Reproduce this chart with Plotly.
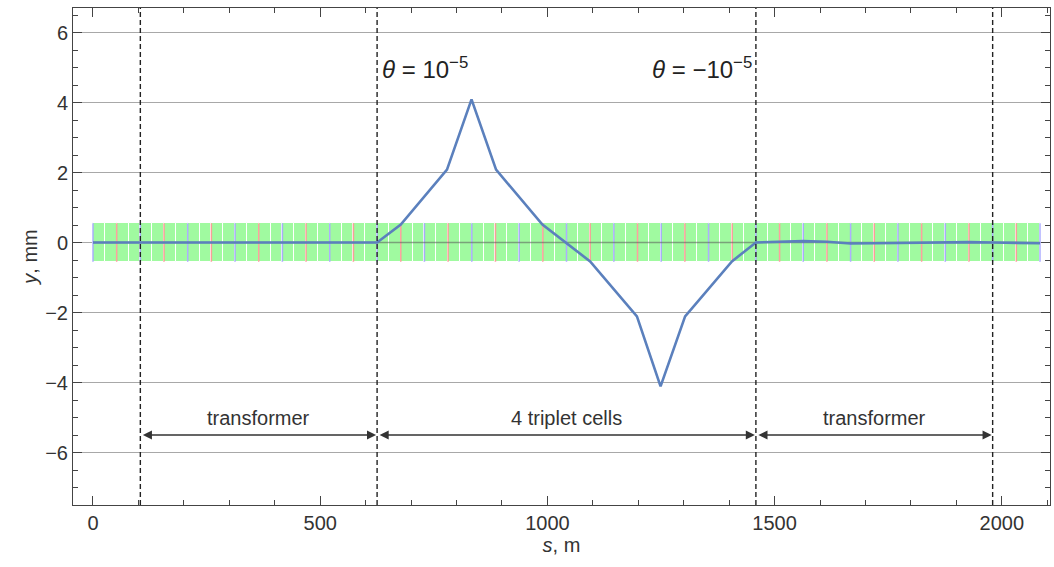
import plotly.graph_objects as go

# ---------------- data ----------------
# quadrupole positions along the lattice (m) and their type (F = blue, D = red)
quad_s = [0, 52.1, 104.2, 156.3, 208.4, 260.5, 312.6, 364.7, 416.8, 468.9,
          521.0, 573.1, 625.2, 677.3, 729.4, 781.5, 833.6, 885.7, 937.8, 989.9,
          1042.0, 1094.1, 1146.2, 1198.3, 1250.4, 1302.5, 1354.6, 1406.7, 1458.8, 1510.9,
          1563.0, 1615.1, 1667.2, 1719.3, 1771.4, 1823.5, 1875.6, 1927.7, 1979.8, 2031.9,
          2084.0]
quad_type = ["F" if i % 2 == 0 else "D" for i in range(len(quad_s))]

# beam offset y (mm) vs s (m)
curve_s = [0, 625.2, 677.3, 779, 833, 887, 989, 1094, 1197, 1249, 1303, 1406, 1458.8,
           1510.9, 1563.0, 1615.1, 1667.2, 1719.3, 1771.4, 1823.5, 1875.6, 1927.7,
           1979.8, 2031.9, 2084.0]
curve_y = [0, 0, 0.51, 2.08, 4.09, 2.08, 0.51, -0.54, -2.11, -4.11, -2.11, -0.54, 0,
           0.03, 0.04, 0.02, -0.03, -0.02, -0.01, 0.0, 0.01, 0.01, 0.0, -0.01, -0.02]

# section boundaries (dashed lines) and labels
section_s = [104.2, 625.2, 1458.8, 1979.8]
section_labels = ["transformer", "4 triplet cells", "transformer"]
kick_labels = ["<i>θ</i> = 10<sup>−5</sup>", "<i>θ</i> = −10<sup>−5</sup>"]

x_ticks = [0, 500, 1000, 1500, 2000]
y_ticks = [-6, -4, -2, 0, 2, 4, 6]

band_half = 0.55
arrow_y = -5.5
label_y = -5.0
kick_y = 5.0

# ---------------- figure ----------------
fig = go.Figure()

# element boxes (two per quad period)
box_centers, box_widths = [], []
for a, b in zip(quad_s[:-1], quad_s[1:]):
    m = (a + b) / 2
    box_centers += [(a + m) / 2, (m + b) / 2]
    box_widths += [m - a, b - m]
fig.add_trace(go.Bar(
    x=box_centers, y=[2 * band_half] * len(box_centers), base=-band_half,
    width=box_widths, marker=dict(color="#a0faa0", line=dict(color="white", width=1)),
    hoverinfo="skip", showlegend=False))

# quadrupoles
for typ, col in (("F", "rgba(165,165,255,0.9)"), ("D", "rgba(255,150,150,0.9)")):
    xs, ys = [], []
    for s, t in zip(quad_s, quad_type):
        if t == typ:
            xs += [s, s, None]
            ys += [-band_half, band_half, None]
    fig.add_trace(go.Scatter(x=xs, y=ys, mode="lines", line=dict(color=col, width=1.5),
                             hoverinfo="skip", showlegend=False))

# zero reference line over the band
fig.add_trace(go.Scatter(x=[quad_s[0], quad_s[-1]], y=[0, 0], mode="lines",
                         line=dict(color="rgba(90,90,90,0.55)", width=1.3),
                         hoverinfo="skip", showlegend=False))

# beam trajectory
fig.add_trace(go.Scatter(x=curve_s, y=curve_y, mode="lines",
                         line=dict(color="#5b80bd", width=2.6), showlegend=False))

# dashed section boundaries
for s in section_s:
    fig.add_vline(x=s, line=dict(color="#222", width=1.4, dash="5px,3px"))

lab_font = dict(size=20, color="#333", family="Liberation Sans, Arial")
# section arrows and labels
for (a, b), lab in zip(zip(section_s[:-1], section_s[1:]), section_labels):
    fig.add_annotation(x=b, y=arrow_y, ax=a, ay=arrow_y, axref="x", ayref="y",
                       xref="x", yref="y", text="", showarrow=True,
                       arrowhead=2, arrowside="end+start", arrowsize=1.3,
                       arrowwidth=1.4, arrowcolor="#333", standoff=1, startstandoff=1)
    fig.add_annotation(x=(a + b) / 2, y=label_y, text=lab, showarrow=False,
                       font=lab_font)

# kick labels
kick_font = dict(size=24, color="#222", family="Liberation Sans, Arial")
fig.add_annotation(x=section_s[1], y=kick_y, text=kick_labels[0], showarrow=False,
                   xanchor="left", xshift=3, font=kick_font)
fig.add_annotation(x=section_s[2], y=kick_y, text=kick_labels[1], showarrow=False,
                   xanchor="right", xshift=-2, font=kick_font)

axis_font = dict(size=20, color="#333", family="Liberation Sans, Arial")
fig.update_layout(
    width=1054, height=567,
    margin=dict(l=73, r=4, t=8, b=62),
    plot_bgcolor="white", paper_bgcolor="white",
    bargap=0,
    font=dict(family="Liberation Sans, Arial", color="#333"),
    xaxis=dict(range=[-44, 2106], tickvals=x_ticks, showgrid=False, zeroline=False,
               automargin=False,
               ticks="inside", ticklen=9, tickwidth=1, tickcolor="#444",
               showline=True, linecolor="#444", linewidth=1, mirror="allticks",
               minor=dict(ticks="inside", ticklen=5, dtick=100, tick0=0,
                          tickcolor="#444", showgrid=False),
               tickfont=axis_font,
               title=dict(text="<i>s</i>, m", font=axis_font, standoff=4)),
    yaxis=dict(range=[-7.5, 6.7], tickvals=y_ticks, showgrid=True, gridcolor="#a8a8a8",
               gridwidth=1.2, zeroline=False, automargin=False,
               ticks="inside", ticklen=9, tickwidth=1, tickcolor="#444",
               showline=True, linecolor="#444", linewidth=1, mirror="allticks",
               minor=dict(ticks="inside", ticklen=5, dtick=0.5, tick0=0,
                          tickcolor="#444", showgrid=False),
               tickfont=axis_font,
               title=dict(text="<i>y</i>, mm", font=axis_font, standoff=2)),
)

fig.write_html("out.html", post_script="document.body.style.margin='0';",
               config={"displayModeBar": False})
